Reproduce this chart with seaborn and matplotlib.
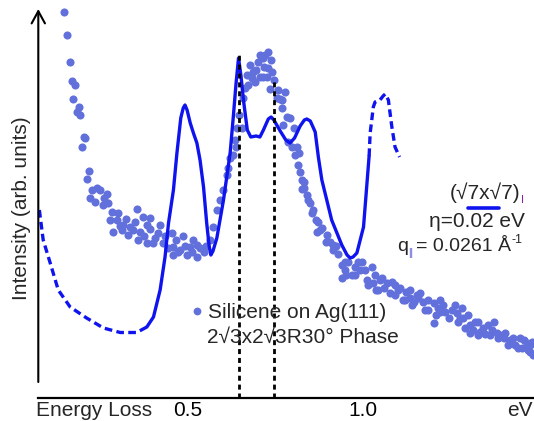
import matplotlib
matplotlib.use("Agg")
import matplotlib.pyplot as plt
import seaborn as sns
import pandas as pd
from matplotlib.lines import Line2D

# ---------------- data (energy loss in eV, intensity in arb. units) ----------------
scatter_energy = [
    0.147, 0.156, 0.163, 0.169, 0.179, 0.173, 0.189, 0.183, 0.193, 0.203, 0.207, 0.198,
    0.217, 0.211, 0.226, 0.249, 0.269, 0.221, 0.235, 0.259, 0.283, 0.354, 0.278, 0.297,
    0.316, 0.335, 0.373, 0.392, 0.287, 0.311, 0.330, 0.364, 0.383, 0.421, 0.416, 0.359,
    0.383, 0.402, 0.430, 0.454, 0.487, 0.459, 0.478, 0.507, 0.526, 0.497, 0.526, 0.545,
    0.459, 0.564, 0.573, 0.583, 0.611, 0.621, 0.630, 0.638, 0.647, 0.654, 0.659, 0.664,
    0.669, 0.678, 0.687, 0.692, 0.702, 0.707, 0.714, 0.719, 0.730, 0.738, 0.716, 0.705,
    0.726, 0.735, 0.754, 0.764, 0.778, 0.769, 0.783, 0.802, 0.787, 0.797, 0.811, 0.807,
    0.819, 0.826, 0.832, 0.826, 0.840, 0.849, 0.854, 0.878, 0.869, 0.897, 0.907, 0.916,
    0.940, 0.959, 0.978, 1.026, 0.940, 0.969, 0.992, 1.011, 1.030, 1.049, 1.069, 1.092,
    1.078, 1.116, 1.135, 1.154, 1.164, 1.173, 1.202, 1.216, 1.230, 1.254, 1.269, 1.245,
    1.202, 1.287, 1.307, 1.316, 1.335, 1.359, 1.383, 1.402, 1.421, 1.449, 1.469, 1.478,
    1.307, 0.873, 0.924, 0.950, 0.998, 1.038, 1.061, 1.101, 1.124, 1.141, 1.187, 1.221,
    1.272, 1.293, 1.330, 1.350, 1.370, 1.392, 1.435, 1.455, 1.484,
    0.241, 0.261, 0.272, 0.300, 0.306, 0.324, 0.344, 0.349, 0.375, 0.392, 0.407, 0.435,
    0.444, 0.467, 0.472, 0.492, 0.512, 0.535, 0.552, 0.515,
    0.592, 0.601, 0.615, 0.635, 0.641,
    0.672, 0.684, 0.695, 0.721, 0.730, 0.741, 0.747, 0.758, 0.769, 0.792, 0.772,
    0.815, 0.821, 0.832, 0.844, 0.858, 0.867, 0.884, 0.895, 0.916, 0.930, 0.950, 0.952,
    0.979, 0.987, 1.007, 1.015, 1.035, 1.044, 1.055, 1.083, 1.092, 1.107, 1.121, 1.135,
    1.147, 1.158, 1.178, 1.187, 1.209, 1.221, 1.235, 1.264, 1.278, 1.284, 1.301, 1.321,
    1.330, 1.344, 1.364, 1.376, 1.387, 1.407, 1.416, 1.430, 1.444, 1.461, 1.473, 1.487,
    1.478,
]
scatter_intensity = [
    3.86, 3.63, 3.36, 3.17, 3.13, 2.99, 2.91, 2.86, 2.83, 2.61, 2.60, 2.51,
    2.27, 2.19, 2.08, 2.08, 2.04, 2.00, 1.96, 1.93, 1.86, 1.89, 1.78, 1.78,
    1.73, 1.71, 1.81, 1.80, 1.66, 1.68, 1.63, 1.66, 1.73, 1.73, 1.65, 1.58,
    1.55, 1.55, 1.55, 1.65, 1.62, 1.51, 1.48, 1.51, 1.53, 1.43, 1.41, 1.46,
    1.43, 1.58, 1.71, 1.88, 2.23, 2.40, 2.43, 2.51, 2.83, 2.70, 3.00, 3.10,
    3.23, 3.33, 3.26, 3.16, 3.36, 3.43, 3.40, 3.31, 3.30, 3.38, 3.21, 3.21,
    3.21, 3.09, 3.00, 2.99, 3.06, 2.90, 2.81, 2.70, 2.56, 2.51, 2.51, 2.43,
    2.45, 2.18, 2.16, 2.09, 2.03, 1.95, 1.85, 1.68, 1.66, 1.63, 1.56, 1.48,
    1.33, 1.36, 1.31, 1.31, 1.20, 1.23, 1.28, 1.18, 1.15, 1.18, 1.15, 1.13,
    1.05, 0.98, 1.00, 1.03, 1.05, 0.96, 0.95, 0.90, 0.93, 0.88, 0.85, 0.80,
    0.75, 0.80, 0.73, 0.68, 0.66, 0.73, 0.65, 0.60, 0.58, 0.60, 0.55, 0.46,
    0.65, 1.76, 1.52, 1.28, 1.36, 1.08, 1.10, 1.08, 1.06, 0.93, 0.88, 0.86,
    0.76, 0.70, 0.76, 0.64, 0.68, 0.63, 0.53, 0.50, 0.56,
    2.10, 2.00, 1.95, 1.85, 1.72, 1.79, 1.68, 1.76, 1.62, 1.69, 1.60, 1.62,
    1.50, 1.58, 1.46, 1.52, 1.46, 1.50, 1.52, 1.58,
    1.98, 2.08, 2.30, 2.58, 2.70,
    3.13, 3.20, 3.28, 3.43, 3.46, 3.26, 3.18, 3.08, 2.98, 2.80, 2.73,
    2.33, 2.26, 2.10, 1.98, 1.88, 1.78, 1.70, 1.56, 1.53, 1.44, 1.36, 1.23,
    1.23, 1.36, 1.28, 1.13, 1.23, 1.08, 1.20, 1.16, 1.03, 1.10, 0.98, 1.08,
    0.96, 1.00, 0.88, 0.98, 0.83, 0.98, 0.86, 0.93, 0.80, 0.90, 0.83, 0.76,
    0.63, 0.70, 0.63, 0.76, 0.60, 0.65, 0.53, 0.60, 0.50, 0.58, 0.48, 0.43,
    0.53,
]

# calculated loss function: dashed low-energy tail, solid central part, dashed high-energy part
calc_low_energy = [0.076, 0.087, 0.107, 0.130, 0.164, 0.211, 0.259, 0.307, 0.354, 0.383]
calc_low_intensity = [1.88, 1.58, 1.35, 1.08, 0.91, 0.80, 0.70, 0.655, 0.655, 0.71]

calc_mid_energy = [
    0.383, 0.402, 0.421, 0.435, 0.445, 0.459, 0.469, 0.480, 0.487, 0.492, 0.498, 0.507,
    0.517, 0.526, 0.535, 0.545, 0.554, 0.561, 0.566, 0.572, 0.583, 0.602, 0.621, 0.630,
    0.638, 0.645, 0.652, 0.659, 0.670, 0.680, 0.695, 0.706, 0.716, 0.730, 0.738, 0.746,
    0.764, 0.780, 0.792, 0.805, 0.821, 0.833, 0.840, 0.850, 0.864, 0.873, 0.883, 0.911,
    0.940, 0.955, 0.964, 0.972, 0.983, 1.002, 1.018,
]
calc_mid_intensity = [
    0.71, 0.81, 1.08, 1.41, 1.75, 2.08, 2.45, 2.80, 2.90, 2.93, 2.88, 2.75,
    2.64, 2.55, 2.38, 2.11, 1.75, 1.52, 1.43, 1.47, 1.60, 1.98, 2.45, 2.81,
    3.15, 3.40, 3.22, 2.98, 2.68, 2.61, 2.62, 2.61, 2.68, 2.79, 2.81, 2.78,
    2.67, 2.58, 2.55, 2.60, 2.72, 2.78, 2.79, 2.77, 2.66, 2.41, 2.18, 1.78,
    1.53, 1.43, 1.40, 1.41, 1.45, 1.71, 2.42,
]

calc_high_energy = [1.018, 1.021, 1.030, 1.035, 1.049, 1.058, 1.064, 1.073, 1.083, 1.092, 1.105]
calc_high_intensity = [2.42, 2.65, 2.91, 2.96, 2.98, 3.02, 3.04, 2.98, 2.71, 2.51, 2.41]

peak_energies = [0.646, 0.745]
peak_heights = [3.43, 3.20]

x_major_ticks = [0.5, 1.0]
x_major_labels = ["0.5", "1.0"]
x_minor_ticks = [0.1, 0.2, 0.3, 0.4, 0.6, 0.7, 0.8, 0.9, 1.1, 1.2, 1.3, 1.4]

legend_label = "Silicene on Ag(111)"
legend_label2 = "2\u221a3x2\u221a3R30\u00b0 Phase"
calc_label = "(\u221a7x\u221a7)"
eta_label = "\u03b7=0.02 eV"

# ---------------- style ----------------
sns.set_style("white")
plt.rcParams['font.family'] = ['Liberation Sans', 'DejaVu Sans']
FS = 15
DOT = "#6270dc"
LINE = "#0f14ef"

W, H = 534, 421
fig = plt.figure(figsize=(W / 100, H / 100), dpi=100)
fx = lambda px: px / W
fy = lambda py: 1 - py / H

ax = fig.add_axes([fx(38.3), fy(398), 1 - fx(38.3), (398 - 9) / H])
ax.set_xlim(0.073, 1.489)
ax.set_ylim(0, 3.89)

scat = pd.DataFrame({"energy": scatter_energy, "intensity": scatter_intensity})
sns.scatterplot(data=scat, x="energy", y="intensity", color=DOT, s=34,
                linewidth=0, ax=ax, zorder=2, clip_on=False)

dash = (0, (2.3, 1.3))
sns.lineplot(x=calc_low_energy, y=calc_low_intensity, sort=False, estimator=None,
             color=LINE, lw=2.4, linestyle=dash, ax=ax, zorder=3)
sns.lineplot(x=calc_mid_energy, y=calc_mid_intensity, sort=False, estimator=None,
             color=LINE, lw=2.4, ax=ax, zorder=3)
sns.lineplot(x=calc_high_energy, y=calc_high_intensity, sort=False, estimator=None,
             color=LINE, lw=2.4, linestyle=dash, ax=ax, zorder=3)

ax.vlines(peak_energies, 0, peak_heights, colors="black", lw=2.0,
          linestyles=[(0, (1.8, 1.4))], zorder=4)

# axes
for s in ["top", "right", "left"]:
    ax.spines[s].set_visible(False)
ax.spines["bottom"].set_linewidth(1.6)
ax.spines["bottom"].set_color("black")
ax.set_yticks([])
ax.set_xticks(x_major_ticks)
ax.set_xticklabels(x_major_labels, fontsize=FS)
ax.set_xticks(x_minor_ticks, minor=True)
ax.tick_params(axis="x", which="major", direction="in", length=9.4, width=1.4,
               pad=2, colors="black")
ax.tick_params(axis="x", which="minor", direction="in", length=5.8, width=1.1)
ax.set_xlabel("")
ax.set_ylabel("")

# y-axis arrow
ax.annotate("", xy=(0, 1.0), xycoords="axes fraction",
            xytext=(0, (398 - 382) / 389), textcoords="axes fraction",
            arrowprops=dict(arrowstyle="->,head_length=0.55,head_width=0.3",
                        lw=1.5, color="black", mutation_scale=16, shrinkA=0, shrinkB=0),
            annotation_clip=False)

fig.text(fx(22), fy(208), "Intensity (arb. units)", rotation=90, fontsize=FS,
         ha="center", va="center")
fig.text(fx(36), fy(416), "Energy Loss", fontsize=FS, ha="left", va="baseline")
fig.text(fx(533), fy(416), "eV", fontsize=FS, ha="right", va="baseline")

# legend for points
fig.add_artist(Line2D([fx(197)], [fy(311)], marker="o", color=DOT, markersize=5.6,
                      markeredgewidth=0, linestyle="none"))
fig.text(fx(208), fy(318), legend_label, fontsize=FS, ha="left", va="baseline")
fig.text(fx(207), fy(343), legend_label2, fontsize=FS, ha="left", va="baseline")

# legend for calculation
fig.text(fx(520), fy(199), calc_label, fontsize=FS, ha="right", va="baseline")
fig.text(fx(521), fy(203), "I", fontsize=8, ha="left", va="baseline", color="#8a1fa8")
fig.add_artist(Line2D([fx(468), fx(499)], [fy(208), fy(208)], color=LINE, lw=2.6))
fig.text(fx(525), fy(227), eta_label, fontsize=FS, ha="right", va="baseline")
fig.text(fx(397), fy(251), "q", fontsize=14, ha="left", va="baseline")
fig.text(fx(408.5), fy(256), "||", fontsize=7, ha="left", va="baseline", color="#4a4ad0")
fig.text(fx(416), fy(251), "= 0.0261 \u00c5", fontsize=14, ha="left", va="baseline")
fig.text(fx(512), fy(243), "-1", fontsize=9, ha="left", va="baseline")

fig.savefig("out.png", dpi=100)
